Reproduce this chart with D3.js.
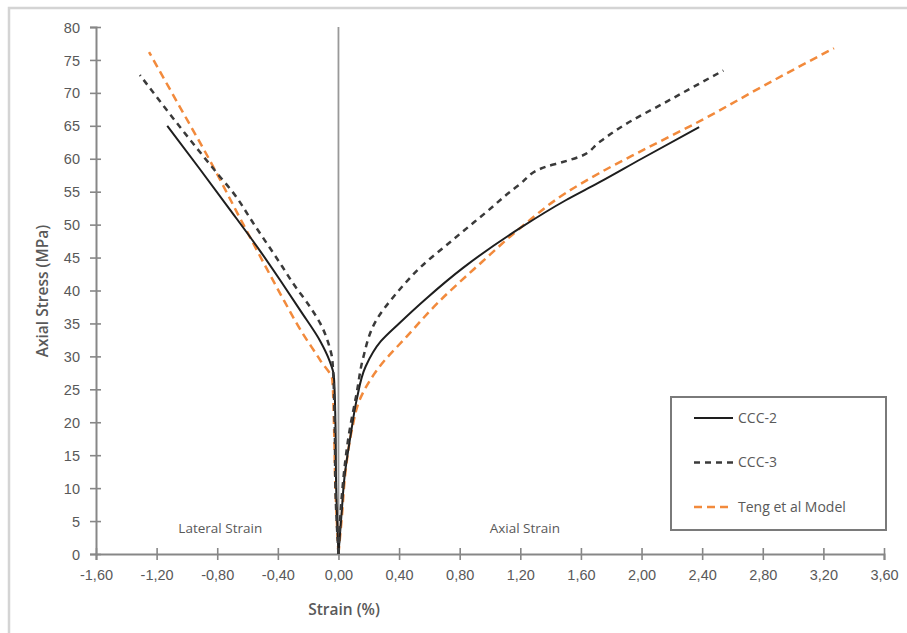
<!DOCTYPE html>
<html>
<head>
<meta charset="utf-8">
<script src="https://cdn.jsdelivr.net/npm/d3@7"></script>
<style>
  html, body { margin: 0; padding: 0; background: #fff; }
  svg { display: block; font-family: "Open Sans", Lato, sans-serif; }
</style>
</head>
<body>
<svg id="chart" width="907" height="633"></svg>
<script>
// ---- data (strain in %, stress in MPa) ----
const xTicks = [-1.6, -1.2, -0.8, -0.4, 0, 0.4, 0.8, 1.2, 1.6, 2.0, 2.4, 2.8, 3.2, 3.6];
const xTickLabels = ["-1,60", "-1,20", "-0,80", "-0,40", "0,00", "0,40", "0,80", "1,20", "1,60", "2,00", "2,40", "2,80", "3,20", "3,60"];
const yTicks = [0, 5, 10, 15, 20, 25, 30, 35, 40, 45, 50, 55, 60, 65, 70, 75, 80];

const seriesNames = ["CCC-2", "CCC-3", "Teng et al Model"];

const ccc2Strain = [-1.13, -0.92, -0.72, -0.52, -0.38, -0.25, -0.12, -0.06, -0.03, -0.02, -0.015, 0,
                    0.02, 0.04, 0.08, 0.12, 0.18, 0.28, 0.40, 0.58, 0.82, 1.20, 1.50, 1.72, 2.00, 2.38];
const ccc2Stress = [65, 58.6, 52.4, 46.1, 41.4, 36.9, 32.3, 29.4, 27, 20, 10, 0,
                    6, 11.7, 18, 23.4, 28.5, 32.3, 35, 38.8, 43.4, 49.5, 53.7, 56.4, 60, 64.8];

const ccc3Strain = [-1.31, -1.12, -0.79, -0.70, -0.55, -0.37, -0.30, -0.19, -0.12, -0.06, -0.04, -0.025, -0.02, 0,
                    0.02, 0.07, 0.12, 0.16, 0.25, 0.38, 0.54, 0.75, 0.97, 1.19, 1.37, 1.48, 1.59, 1.72, 1.85, 2.20, 2.54];
const ccc3Stress = [72.7, 67, 57.5, 55, 49.8, 43.6, 41.1, 37.6, 35, 31.5, 29.4, 20, 10, 0,
                    8.2, 18.3, 24.4, 29.5, 35.5, 39.5, 43.5, 47.6, 51.8, 56, 58.8, 59.5, 60.3, 62.5, 64.6, 69.1, 73.4];

const tengStrain = [-1.25, -1.05, -0.85, -0.65, -0.48, -0.36, -0.25, -0.12, -0.04, -0.03, -0.02, 0,
                    0.02, 0.05, 0.09, 0.14, 0.27, 0.45, 0.65, 0.95, 1.20, 1.50, 1.72, 2.00, 2.40, 2.80, 3.27];
const tengStress = [76.2, 68, 59.8, 51, 43.6, 38.5, 34, 29.4, 26.4, 20, 10, 0,
                    5, 13.2, 19, 23.4, 28.4, 33, 38, 44.4, 49.5, 54.8, 57.8, 61.2, 65.9, 71, 76.8];

const annotations = [
  { text: "Lateral Strain", x: -0.78, y: 4 },
  { text: "Axial Strain", x: 1.23, y: 4 }
];

// ---- drawing ----
const svg = d3.select("#chart");
const x = d3.scaleLinear().domain([-1.6, 3.6]).range([96, 884]);
const y = d3.scaleLinear().domain([0, 80]).range([554, 27]);

// outer chart border
svg.append("rect").attr("x", 9).attr("y", 8).attr("width", 920).attr("height", 660)
  .attr("fill", "#fff").attr("stroke", "#d4d4d4").attr("stroke-width", 2.5);

const axisColor = "#878787";
const textColor = "#595959";

// Y axis
const yAxis = svg.append("g").attr("transform", `translate(${x(-1.6)},0)`)
  .call(d3.axisLeft(y).tickValues(yTicks).tickSize(6).tickPadding(10).tickFormat(d3.format("d")));
yAxis.select(".domain").attr("stroke", axisColor).attr("stroke-width", 2);
yAxis.selectAll(".tick line").attr("x1", -6).attr("x2", 5).attr("stroke", axisColor).attr("stroke-width", 1.6);
yAxis.selectAll(".tick text").attr("fill", textColor).attr("font-size", 14.5).attr("dy", "0.35em");

// X axis
const xAxis = svg.append("g").attr("transform", `translate(0,${y(0)})`)
  .call(d3.axisBottom(x).tickValues(xTicks).tickSize(6).tickPadding(10)
        .tickFormat((d, i) => xTickLabels[i]));
xAxis.select(".domain").attr("stroke", axisColor).attr("stroke-width", 2);
xAxis.selectAll(".tick line").attr("y1", -6).attr("y2", 6).attr("stroke", axisColor).attr("stroke-width", 1.6);
xAxis.selectAll(".tick text").attr("fill", textColor).attr("font-size", 14.5);

// zero vertical line
svg.append("line").attr("x1", x(0)).attr("x2", x(0)).attr("y1", y(0)).attr("y2", y(80))
  .attr("stroke", "#999").attr("stroke-width", 1.8);

// axis titles
svg.append("text").attr("x", 344).attr("y", 615).attr("text-anchor", "middle")
  .attr("fill", textColor).attr("font-size", 15.5).attr("font-weight", 600).text("Strain (%)");
svg.append("text").attr("transform", "translate(48,291) rotate(-90)").attr("text-anchor", "middle")
  .attr("fill", textColor).attr("font-size", 15.5).attr("font-weight", 600).text("Axial Stress (MPa)");

// annotations
annotations.forEach(a => {
  svg.append("text").attr("x", x(a.x)).attr("y", y(a.y) + 5).attr("text-anchor", "middle")
    .attr("fill", textColor).attr("font-size", 13.5).text(a.text);
});

// series
const series = [
  { name: seriesNames[0], xs: ccc2Strain, ys: ccc2Stress, color: "#1e1e1e", dash: null, w: 2 },
  { name: seriesNames[1], xs: ccc3Strain, ys: ccc3Stress, color: "#3a3a3a", dash: "6,5", w: 2.5 },
  { name: seriesNames[2], xs: tengStrain, ys: tengStress, color: "#F28A3C", dash: "8,5", w: 2.5 }
];

const line = d3.line().x(d => x(d[0])).y(d => y(d[1])).curve(d3.curveMonotoneY);

[series[2], series[0], series[1]].forEach(s => {
  const pts = s.xs.map((v, i) => [v, s.ys[i]]);
  const k = s.xs.indexOf(0);
  // each branch drawn from the origin upward (stress increasing)
  const lateral = pts.slice(0, k + 1).reverse();
  const axial = pts.slice(k);
  [lateral, axial].forEach(branch => {
    svg.append("path").datum(branch).attr("d", line).attr("fill", "none")
      .attr("stroke", s.color).attr("stroke-width", s.w)
      .attr("stroke-dasharray", s.dash).attr("stroke-linejoin", "round");
  });
});

// legend
const lg = svg.append("g");
lg.append("rect").attr("x", 671).attr("y", 397).attr("width", 215).attr("height", 133)
  .attr("fill", "#fff").attr("stroke", "#7a7a7a").attr("stroke-width", 2);
series.forEach((s, i) => {
  const ly = 418 + i * 44.5;
  lg.append("line").attr("x1", 694).attr("x2", 733).attr("y1", ly).attr("y2", ly)
    .attr("stroke", s.color).attr("stroke-width", s.w).attr("stroke-dasharray", s.dash);
  lg.append("text").attr("x", 738).attr("y", ly).attr("dy", "0.35em")
    .attr("fill", textColor).attr("font-size", 14).text(s.name);
});
</script>
</body>
</html>
